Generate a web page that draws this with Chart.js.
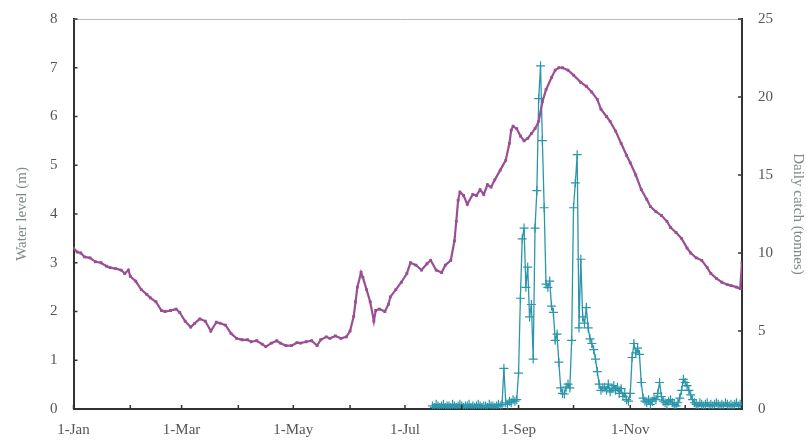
<!DOCTYPE html>
<html>
<head>
<meta charset="utf-8">
<script src="https://cdn.jsdelivr.net/npm/chart.js@4"></script>
<style>
  html, body { margin: 0; padding: 0; background: #fff; }
  #wrap { width: 807px; height: 442px; }
</style>
</head>
<body>
<div id="wrap"><canvas id="levelChart" width="807" height="442"></canvas></div>
<script>
// day of year (0 = 1-Jan) for water level readings
const waterDays = [0,2,4,6,9,12,15,18,20,23,26,28,30,31,34,37,40,42,45,48,50,53,56,58,61,64,66,69,72,75,78,80,83,86,89,92,95,97,100,103,105,108,111,113,116,119,122,124,127,130,133,135,138,140,143,146,149,151,153,154,155,157,158,160,162,164,165,167,170,172,173,176,179,182,184,187,190,193,195,198,201,203,206,208,209,210,211,213,215,218,220,222,224,226,228,230,233,236,238,239,240,242,244,246,248,250,252,254,256,258,261,263,265,267,270,273,277,280,283,286,288,291,293,296,299,302,304,307,310,313,315,318,321,324,326,329,332,335,337,340,343,346,348,351,354,357,359,362,364,365];
const waterLevel = [3.3,3.22,3.2,3.12,3.1,3.02,3.0,2.93,2.9,2.88,2.85,2.78,2.85,2.72,2.62,2.45,2.35,2.28,2.2,2.02,2.0,2.02,2.05,1.98,1.8,1.68,1.75,1.85,1.8,1.6,1.78,1.76,1.72,1.55,1.45,1.42,1.42,1.38,1.4,1.33,1.28,1.35,1.4,1.35,1.3,1.3,1.36,1.35,1.38,1.4,1.3,1.42,1.48,1.45,1.5,1.45,1.48,1.6,1.9,2.2,2.5,2.8,2.7,2.45,2.2,1.8,2.02,2.05,2.0,2.15,2.3,2.45,2.6,2.78,3.0,2.95,2.85,2.98,3.05,2.85,2.8,2.95,3.05,3.45,3.85,4.28,4.45,4.38,4.2,4.4,4.38,4.5,4.4,4.6,4.55,4.7,4.9,5.1,5.45,5.72,5.8,5.75,5.6,5.5,5.55,5.65,5.75,5.9,6.3,6.55,6.8,6.95,7.0,7.0,6.95,6.85,6.7,6.62,6.5,6.35,6.15,6.0,5.9,5.7,5.45,5.2,5.05,4.8,4.5,4.3,4.15,4.05,3.97,3.85,3.72,3.62,3.5,3.3,3.2,3.1,3.05,2.9,2.78,2.68,2.6,2.55,2.53,2.5,2.47,3.0];

// daily catch, one value per day starting at catchStartDay
const catchStartDay = 196;
const dailyCatch = [
  0.2,0.1,0.3,0.2,0.1,0.2,0.3,0.1,0.2,0.2,0.1,0.3,0.2,0.1,0.2,0.3,0.2,0.1,0.2,0.2,
  0.3,0.1,0.2,0.1,0.2,0.3,0.2,0.1,0.2,0.2,0.1,0.3,0.2,0.2,0.1,0.2,0.3,0.2,
  0.3,2.6,0.4,0.3,0.5,0.4,0.6,0.5,0.6,2.3,7.1,10.9,11.6,7.8,9.1,5.9,6.7,3.2,
  11.6,14.0,19.9,22.0,17.2,12.9,8.0,7.8,8.2,6.6,6.2,4.4,4.8,3.0,1.35,1.0,0.96,1.4,1.6,1.35,
  4.4,12.9,14.5,16.3,5.2,9.6,5.9,5.5,6.5,5.2,4.5,4.2,3.8,3.2,2.4,1.6,1.2,1.35,
  1.4,1.2,1.6,1.1,1.3,1.5,1.2,1.4,1.0,1.3,0.8,1.0,0.6,0.5,1.0,3.3,4.2,3.6,3.9,3.5,1.7,
  0.7,0.5,0.4,0.6,0.3,0.5,0.7,0.6,1.0,1.7,0.8,0.5,0.4,0.3,0.5,0.6,0.4,0.3,0.2,0.4,
  0.7,1.2,1.9,1.7,1.5,1.2,0.9,0.6,0.4,
  0.3,0.2,0.4,0.3,0.2,0.3,0.4,0.2,0.3,0.2,0.3,0.4,0.3,0.2,0.3,0.2,0.4,0.3,0.2,0.3,0.2,0.3,0.4,0.2,0.3,0.2
];

const monthStarts = [0,31,59,90,120,151,181,212,243,273,304,334,365];
const monthLabels = ['1-Jan','','1-Mar','','1-May','','1-Jul','','1-Sep','','1-Nov','',''];
const levelTicks = [0,1,2,3,4,5,6,7,8];
const catchTicks = [0,5,10,15,20,25];

const serif = '"Liberation Serif", "DejaVu Serif", serif';
const axisDark = '#333';

// short tick marks drawn on the inner side of each axis, plus the thin top frame line
const innerTicks = {
    id: 'innerTicks',
    afterDraw(chart) {
        const c = chart.ctx, a = chart.chartArea;
        const x = chart.scales.x, yl = chart.scales.y, yr = chart.scales.y1;
        c.save();
        c.strokeStyle = '#bbb';
        c.lineWidth = 1;
        c.beginPath(); c.moveTo(a.left, a.top + 0.5); c.lineTo(a.right, a.top + 0.5); c.stroke();
        c.strokeStyle = axisDark;
        c.lineWidth = 1.5;
        c.beginPath();
        levelTicks.forEach(v => { const p = yl.getPixelForValue(v); c.moveTo(a.left, p); c.lineTo(a.left + 4, p); });
        catchTicks.forEach(v => { const p = yr.getPixelForValue(v); c.moveTo(a.right, p); c.lineTo(a.right - 4, p); });
        monthStarts.forEach(v => { const p = x.getPixelForValue(v); c.moveTo(p, a.bottom); c.lineTo(p, a.bottom - 4); });
        c.stroke();
        c.restore();
    }
};

const topPad = s => { s.paddingTop = 19; };

document.addEventListener('DOMContentLoaded', function() {
    const ctx = document.getElementById('levelChart').getContext('2d');
    new Chart(ctx, {
        type: 'line',
        data: {
            datasets: [{
                label: 'Water level',
                data: waterDays.map((d, i) => ({ x: d, y: waterLevel[i] })),
                yAxisID: 'y',
                borderColor: '#9a4f95',
                backgroundColor: '#9a4f95',
                borderWidth: 2.2,
                pointStyle: 'rect',
                pointRadius: 2,
                pointBorderWidth: 0,
                tension: 0
            }, {
                label: 'Daily catch',
                data: dailyCatch.map((v, i) => ({ x: catchStartDay + i, y: v })),
                yAxisID: 'y1',
                borderColor: '#2b96aa',
                backgroundColor: '#2b96aa',
                borderWidth: 1.3,
                pointStyle: 'cross',
                pointRadius: 4.5,
                pointBorderWidth: 1.2,
                tension: 0
            }]
        },
        options: {
            responsive: false,
            animation: false,
            layout: { padding: { top: 0, right: -10, bottom: -9, left: 13 } },
            plugins: { legend: { display: false }, tooltip: { enabled: false } },
            scales: {
                x: {
                    type: 'linear',
                    min: 0,
                    max: 365,
                    afterBuildTicks: s => { s.ticks = monthStarts.map(v => ({ value: v })); },
                    grid: { display: false, drawTicks: false },
                    border: { display: true, color: axisDark, width: 2 },
                    ticks: {
                        autoSkip: false,
                        maxRotation: 0,
                        padding: 12,
                        color: '#555',
                        font: { family: serif, size: 15 },
                        callback: (v, i) => monthLabels[i]
                    }
                },
                y: {
                    position: 'left',
                    min: 0,
                    max: 8,
                    afterBuildTicks: s => { s.ticks = levelTicks.map(v => ({ value: v })); },
                    afterFit: topPad,
                    grid: { display: false, drawTicks: false },
                    border: { display: true, color: axisDark, width: 2 },
                    ticks: { padding: 16, color: '#555', font: { family: serif, size: 15 } },
                    title: { display: true, text: 'Water level (m)', color: '#7d8a86', font: { family: serif, size: 15 }, padding: { top: 0, bottom: 3 } }
                },
                y1: {
                    position: 'right',
                    min: 0,
                    max: 25,
                    afterBuildTicks: s => { s.ticks = catchTicks.map(v => ({ value: v })); },
                    afterFit: topPad,
                    grid: { display: false, drawTicks: false },
                    border: { display: true, color: axisDark, width: 2 },
                    ticks: { padding: 16, color: '#555', font: { family: serif, size: 15 } },
                    title: { display: true, text: 'Daily catch (tonnes)', color: '#7d8a86', font: { family: serif, size: 15 }, padding: { top: 10, bottom: 0 } }
                }
            }
        },
        plugins: [innerTicks]
    });
});
</script>
</body>
</html>
